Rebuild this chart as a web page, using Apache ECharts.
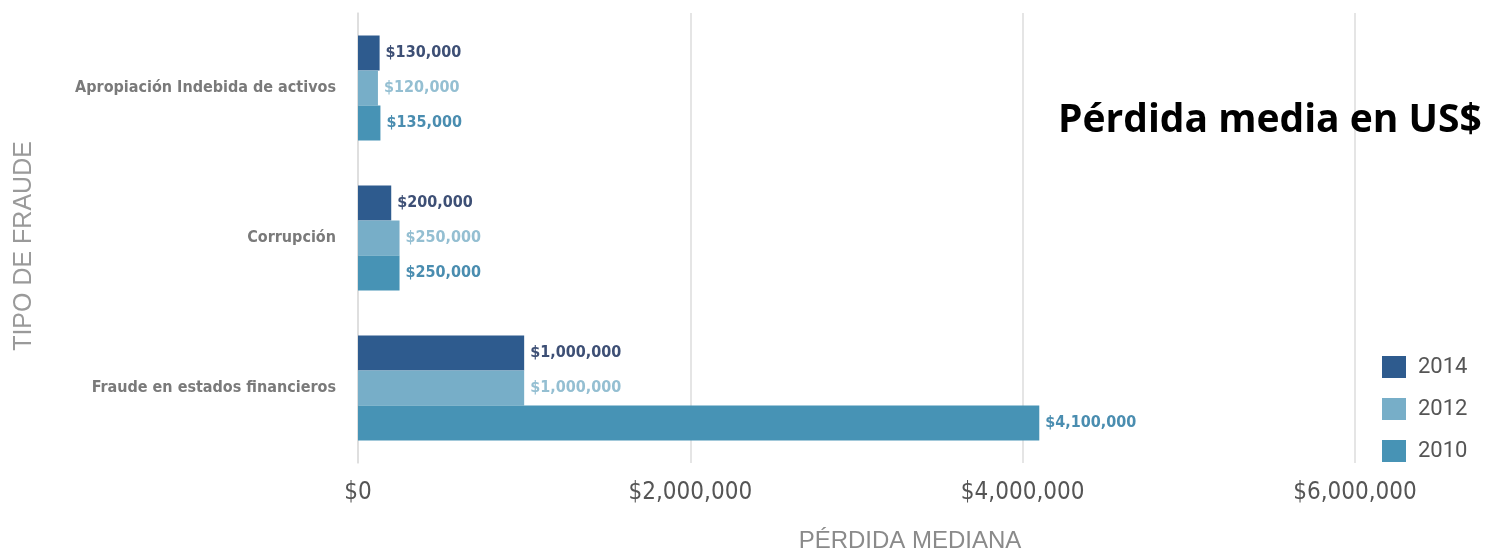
<!DOCTYPE html>
<html>
<head>
<meta charset="utf-8">
<script src="https://cdn.jsdelivr.net/npm/echarts@6/dist/echarts.min.js"></script>
<style>
html,body{margin:0;padding:0;background:#fff;}
#chart{width:1499px;height:555px;}
</style>
</head>
<body>
<div id="chart"></div>
<script>
var categories = ['Apropiación Indebida de activos', 'Corrupción', 'Fraude en estados financieros'];
var seriesNames = ['2014', '2012', '2010'];
var values2014 = [130000, 200000, 1000000];
var values2012 = [120000, 250000, 1000000];
var values2010 = [135000, 250000, 4100000];
var xTickValues = [0, 2000000, 4000000, 6000000];

var barColors = ['#2e5b8e', '#77aec8', '#4793b5'];
var labelColors = ['#3d4f75', '#94bfd2', '#4a8db0'];
var condensed = '"Liberation Sans Narrow", "DejaVu Sans Condensed", "Roboto Condensed", sans-serif';

function money(v) { return '$' + Number(v).toLocaleString('en-US'); }

var dataSets = [values2014, values2012, values2010];
var series = seriesNames.map(function (name, i) {
  return {
    name: name,
    type: 'bar',
    data: dataSets[i],
    barGap: '0%',
    barCategoryGap: '30%',
    itemStyle: { color: barColors[i] },
    label: {
      show: true,
      position: 'right',
      distance: 6,
      formatter: function (p) { return money(p.value); },
      color: labelColors[i],
      fontFamily: condensed,
      fontWeight: 'bold',
      fontSize: 16
    }
  };
});

var chart = echarts.init(document.getElementById('chart'));
chart.setOption({
  animation: false,
  backgroundColor: '#ffffff',
  title: {
    text: 'Pérdida media en US$',
    left: 1058,
    top: 101,
    padding: 0,
    textStyle: { fontFamily: '"Open Sans", Lato, sans-serif', fontWeight: 'bold', fontSize: 39, color: '#000' }
  },
  legend: {
    data: seriesNames,
    orient: 'vertical',
    left: 1382,
    top: 356,
    padding: 0,
    itemWidth: 24,
    itemHeight: 22,
    itemGap: 20,
    icon: 'rect',
    textStyle: { fontSize: 22, color: '#555', fontFamily: 'Roboto, sans-serif', padding: [0, 0, 0, 7] }
  },
  grid: { left: 358, right: 144, top: 13, bottom: 92, containLabel: false },
  xAxis: {
    type: 'value',
    min: 0,
    max: 6000000,
    interval: 2000000,
    axisLine: { show: false },
    axisTick: { show: false },
    splitLine: { show: true, lineStyle: { color: '#dcdcdc', width: 1.5 } },
    axisLabel: {
      formatter: function (v) { return money(v); },
      color: '#555',
      fontFamily: condensed,
      fontSize: 24,
      margin: 18
    }
  },
  yAxis: {
    type: 'category',
    data: categories,
    inverse: true,
    axisLine: { show: true, lineStyle: { color: '#dcdcdc', width: 1.5 } },
    axisTick: { show: false },
    axisLabel: {
      color: '#7a7a7a',
      fontFamily: condensed,
      fontWeight: 'bold',
      fontSize: 16,
      margin: 22
    }
  },
  graphic: [
    {
      type: 'text',
      x: 910, y: 541,
      style: { text: 'PÉRDIDA MEDIANA', fill: '#8a8a8a', font: '24px "Liberation Sans", Arial, sans-serif', textAlign: 'center', textVerticalAlign: 'middle' }
    },
    {
      type: 'text',
      x: 24, y: 246,
      rotation: Math.PI / 2,
      style: { text: 'TIPO DE FRAUDE', fill: '#9a9a9a', font: '25px "Liberation Sans", Arial, sans-serif', textAlign: 'center', textVerticalAlign: 'middle' }
    }
  ],
  series: series
});
</script>
</body>
</html>
